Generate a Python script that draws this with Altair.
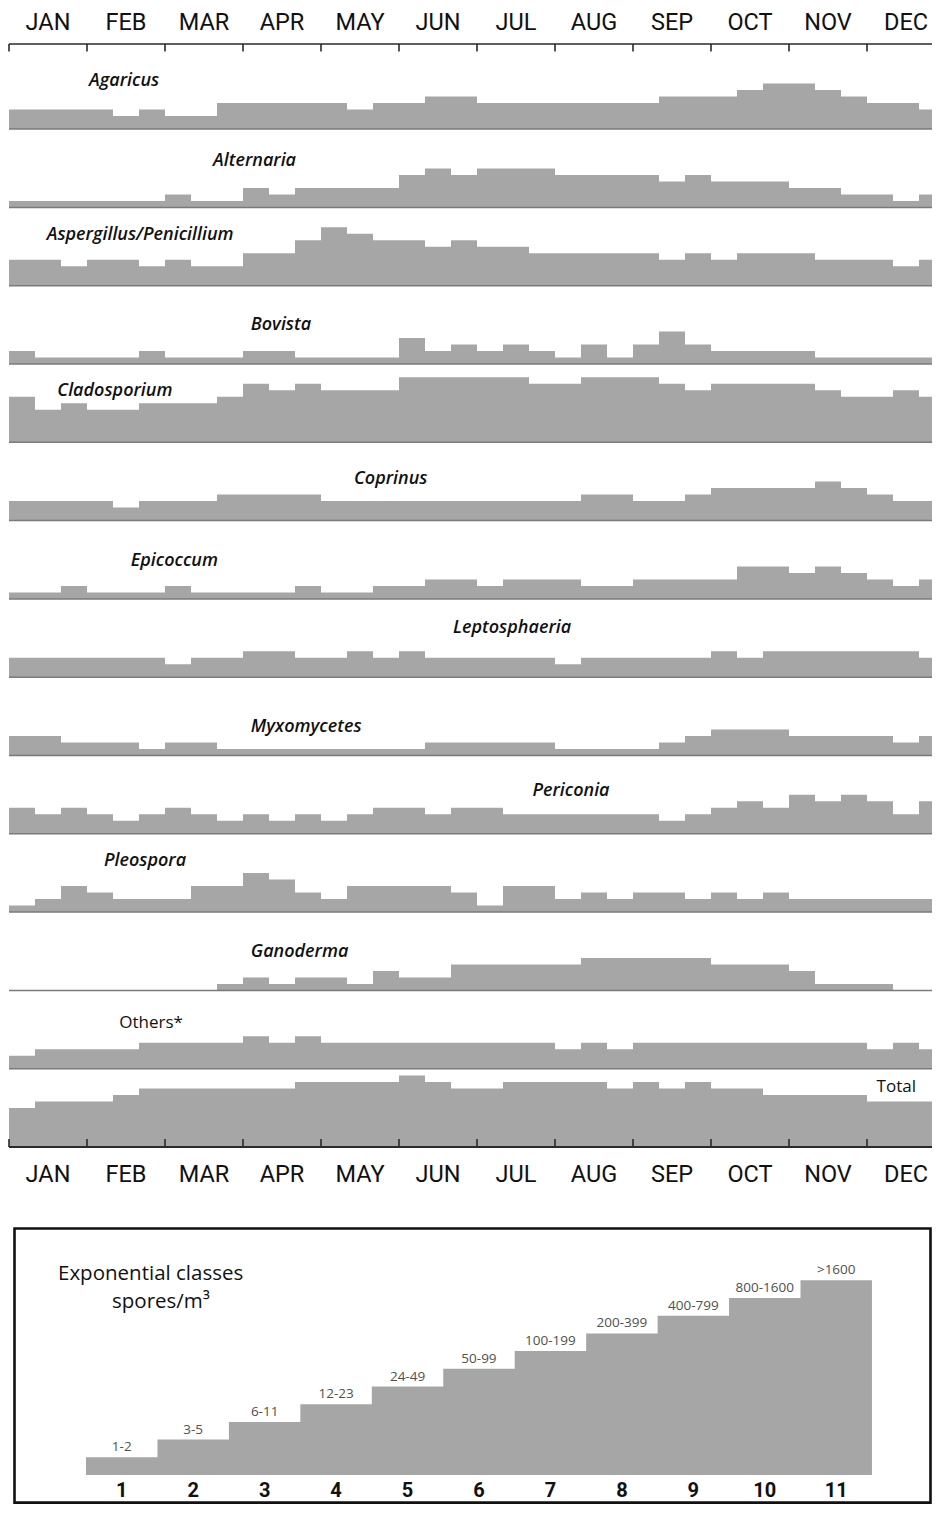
import altair as alt
import pandas as pd

# ---------------- data ----------------
months = ["JAN", "FEB", "MAR", "APR", "MAY", "JUN", "JUL", "AUG", "SEP", "OCT", "NOV", "DEC"]
species = ["Agaricus", "Alternaria", "Aspergillus/Penicillium", "Bovista", "Cladosporium",
           "Coprinus", "Epicoccum", "Leptosphaeria", "Myxomycetes", "Periconia",
           "Pleospora", "Ganoderma", "Others*", "Total"]
italic = [True] * 12 + [False, False]

# exponential class per 10-day period (3 per month, 36 per year)
agaricus      = [3,3,3,3,2,3,2,2,4,4,4,4,4,3,4,4,5,5,4,4,4,4,4,4,4,5,5,5,6,7,7,6,5,4,4,3]
alternaria    = [1,1,1,1,1,1,2,1,1,3,2,3,3,3,3,5,6,5,6,6,6,5,5,5,5,4,5,4,4,4,3,3,2,2,1,2]
aspergillus   = [4,4,3,4,4,3,4,3,3,5,5,7,9,8,7,7,6,7,6,6,5,5,5,5,5,4,5,4,5,5,5,4,4,4,3,4]
bovista       = [2,1,1,1,1,2,1,1,1,2,2,1,1,1,1,4,2,3,2,3,2,1,3,1,3,5,3,2,2,2,2,1,1,1,1,1]
cladosporium  = [7,5,6,5,5,6,6,6,7,9,8,9,8,8,8,10,10,10,10,10,9,9,10,10,10,9,8,9,9,9,9,8,7,7,8,7]
coprinus      = [3,3,3,3,2,3,3,3,4,4,4,4,3,3,3,3,3,3,3,3,3,3,4,4,3,3,4,5,5,5,5,6,5,4,3,3]
epicoccum     = [1,1,2,1,1,1,2,1,1,1,1,2,1,1,2,2,3,3,2,3,3,3,2,2,3,3,3,3,5,5,4,5,4,3,2,3]
leptosphaeria = [3,3,3,3,3,3,2,3,3,4,4,3,3,4,3,4,3,3,3,3,3,2,3,3,3,3,3,4,3,4,4,4,4,4,4,3]
myxomycetes   = [3,3,2,2,2,1,2,2,1,1,1,1,1,1,1,1,2,2,2,2,2,1,1,1,1,2,3,4,4,4,3,3,3,3,2,3]
periconia     = [4,3,4,3,2,3,4,3,2,3,2,3,2,3,4,4,3,4,4,3,3,3,3,3,3,2,3,4,5,4,6,5,6,5,3,5]
pleospora     = [1,2,4,3,2,2,2,4,4,6,5,3,2,4,4,4,4,3,1,4,4,2,3,2,3,3,2,3,2,3,2,2,2,2,2,2]
ganoderma     = [0,0,0,0,0,0,0,0,1,2,1,2,2,1,3,2,2,4,4,4,4,4,5,5,5,5,5,4,4,4,3,1,1,1,0,0]
others        = [2,3,3,3,3,4,4,4,4,5,4,5,4,4,4,4,4,4,4,4,4,3,4,3,4,4,4,4,4,4,4,4,4,3,4,3]
total         = [6,7,7,7,8,9,9,9,9,9,9,10,10,10,10,11,10,9,9,10,10,10,10,9,10,9,10,9,9,8,8,8,8,7,7,7]
series = [agaricus, alternaria, aspergillus, bovista, cladosporium, coprinus, epicoccum,
          leptosphaeria, myxomycetes, periconia, pleospora, ganoderma, others, total]

# label anchor: period where the name starts, height above the row baseline (in classes)
label_period = [3.08, 7.85, 1.45, 9.30, 1.86, 13.27, 4.68, 17.08, 9.30, 20.13, 3.65, 9.30, 4.24, 33.37]
label_rise   = [6.6, 6.3, 7.0, 5.3, 7.15, 5.7, 5.05, 6.8, 3.55, 5.85, 7.1, 5.2, 6.2, 8.4]

class_ids = list(range(1, 12))
class_ranges = ["1-2", "3-5", "6-11", "12-23", "24-49", "50-99", "100-199",
                "200-399", "400-799", "800-1600", ">1600"]

# ---------------- layout ----------------
FILL = "#a6a6a6"
INK = "#111111"
FONT = "Open Sans"
AXFONT = "Roboto"
PX_LEFT, BIN_PX, UNIT_PX, ROW_PX, BASE_PX = 9, 26.0, 6.5, 78.3, 1147.0
ORIGIN = 8            # page margin: plot area starts here (padding 0)
W, H = 924, 1496
N = len(species)
NB = len(agaricus)


def vx(px):
    return (px - PX_LEFT) / BIN_PX


def vy(py):
    return (BASE_PX - py) / UNIT_PX


xs = alt.Scale(domain=[vx(ORIGIN), vx(ORIGIN + W)], nice=False, zero=False)
ys = alt.Scale(domain=[vy(ORIGIN + H), vy(ORIGIN)], nice=False, zero=False)
row_off = [(N - 1 - i) * ROW_PX / UNIT_PX for i in range(N)]

# areas
rows = []
for i, (name, vals) in enumerate(zip(species, series)):
    for j in range(NB + 1):
        v = vals[min(j, NB - 1)]
        rows.append({"species": name, "x": j, "top": row_off[i] + v, "base": row_off[i]})
area_df = pd.DataFrame(rows)

area = alt.Chart(area_df).mark_area(interpolate="step-after", color=FILL, clip=True).encode(
    x=alt.X("x:Q", scale=xs, axis=None),
    y=alt.Y("top:Q", scale=ys, axis=None),
    y2="base:Q",
    detail="species:N",
)

base_df = pd.DataFrame({"x0": [0] * (N - 1), "x1": [NB] * (N - 1), "y": row_off[:-1]})
baselines = alt.Chart(base_df).mark_rule(color="#7a7a7a", strokeWidth=1.5, clip=True).encode(
    x=alt.X("x0:Q", scale=xs), x2="x1:Q", y=alt.Y("y:Q", scale=ys))

# axes (top and bottom)
TOP_AX = vy(44)
axis_df = pd.DataFrame({"x0": [0, 0], "x1": [NB, NB], "y": [TOP_AX, 0.0], "w": [1.6, 2.2]})
axis_lines = alt.Chart(axis_df).mark_rule(color="#2a2a2a", clip=True).encode(
    x=alt.X("x0:Q", scale=xs), x2="x1:Q", y=alt.Y("y:Q", scale=ys),
    strokeWidth=alt.StrokeWidth("w:Q", scale=None))

ticks_rows = []
for m in range(len(months)):
    ticks_rows.append({"x": 3 * m, "y": TOP_AX, "y2": vy(51.5)})
    ticks_rows.append({"x": 3 * m, "y": 0.0, "y2": vy(1139)})
ticks = alt.Chart(pd.DataFrame(ticks_rows)).mark_rule(color="#2a2a2a", strokeWidth=1.6).encode(
    x=alt.X("x:Q", scale=xs), y=alt.Y("y:Q", scale=ys), y2="y2:Q")

mlab_rows = []
for m, name in enumerate(months):
    mlab_rows.append({"x": 3 * m + 1.5, "y": vy(30.3), "t": name})
    mlab_rows.append({"x": 3 * m + 1.5, "y": vy(1181.5), "t": name})
month_labels = alt.Chart(pd.DataFrame(mlab_rows)).mark_text(
    font=AXFONT, fontSize=23.5, color=INK, align="center", baseline="alphabetic").encode(
    x=alt.X("x:Q", scale=xs), y=alt.Y("y:Q", scale=ys), text="t:N")

lab_df = pd.DataFrame({
    "t": species,
    "x": label_period,
    "y": [row_off[i] + label_rise[i] for i in range(N)],
    "it": italic,
})
sp_it = alt.Chart(lab_df).transform_filter("datum.it").mark_text(
    font=FONT, fontSize=18, fontStyle="italic", fontWeight=600, color=INK,
    align="left", baseline="alphabetic").encode(
    x=alt.X("x:Q", scale=xs), y=alt.Y("y:Q", scale=ys), text="t:N")
sp_rm = alt.Chart(lab_df).transform_filter("!datum.it").mark_text(
    font=FONT, fontSize=17, color=INK, align="left", baseline="alphabetic").encode(
    x=alt.X("x:Q", scale=xs), y=alt.Y("y:Q", scale=ys), text="t:N")

# ---------------- legend ----------------
LX0, LSTEP, LBASE, LUNIT = 86.0, 71.45, 1475.0, 17.7
leg_rows = []
for c in class_ids + [class_ids[-1] + 1]:
    cc = min(c, class_ids[-1])
    leg_rows.append({"x": vx(LX0 + (c - 1) * LSTEP), "top": vy(LBASE - cc * LUNIT), "base": vy(LBASE)})
leg_area = alt.Chart(pd.DataFrame(leg_rows)).mark_area(interpolate="step-after", color=FILL).encode(
    x=alt.X("x:Q", scale=xs), y=alt.Y("top:Q", scale=ys), y2="base:Q")

leg_lab_df = pd.DataFrame({
    "x": [vx(LX0 + (c - 0.5) * LSTEP) for c in class_ids],
    "y": [vy(LBASE - c * LUNIT - 6) for c in class_ids],
    "yn": [vy(1497)] * len(class_ids),
    "r": class_ranges,
    "n": [str(c) for c in class_ids],
})
leg_ranges = alt.Chart(leg_lab_df).mark_text(
    font=FONT, fontSize=13.5, color="#505050", align="center", baseline="alphabetic").encode(
    x=alt.X("x:Q", scale=xs), y=alt.Y("y:Q", scale=ys), text="r:N")
leg_nums = alt.Chart(leg_lab_df).mark_text(
    font=AXFONT, fontSize=20, fontWeight="bold", color=INK, align="center", baseline="alphabetic").encode(
    x=alt.X("x:Q", scale=xs), y=alt.Y("yn:Q", scale=ys), text="n:N")

box_df = pd.DataFrame({"x": [vx(14.5)], "x2": [vx(930.5)], "y": [vy(1228.5)], "y2": [vy(1502.6)]})
box = alt.Chart(box_df).mark_rect(filled=False, stroke="#111111", strokeWidth=2.6).encode(
    x=alt.X("x:Q", scale=xs), x2="x2:Q", y=alt.Y("y:Q", scale=ys), y2="y2:Q")

title_df = pd.DataFrame({"x": [vx(58), vx(112)], "y": [vy(1279.5), vy(1307.5)],
                         "t": ["Exponential classes", "spores/m\u00b3"]})
leg_title = alt.Chart(title_df).mark_text(
    font=FONT, fontSize=20.5, color=INK, align="left", baseline="alphabetic").encode(
    x=alt.X("x:Q", scale=xs), y=alt.Y("y:Q", scale=ys), text="t:N")

chart = alt.layer(
    area, baselines, axis_lines, ticks, month_labels, sp_it, sp_rm,
    box, leg_area, leg_ranges, leg_nums, leg_title,
).properties(
    width=W, height=H,
    autosize=alt.AutoSizeParams(type="none", contains="padding"),
    padding=0,
    background="white",
).configure_view(stroke=None)

chart.save("out.html", embed_options={"renderer": "svg", "actions": False})
